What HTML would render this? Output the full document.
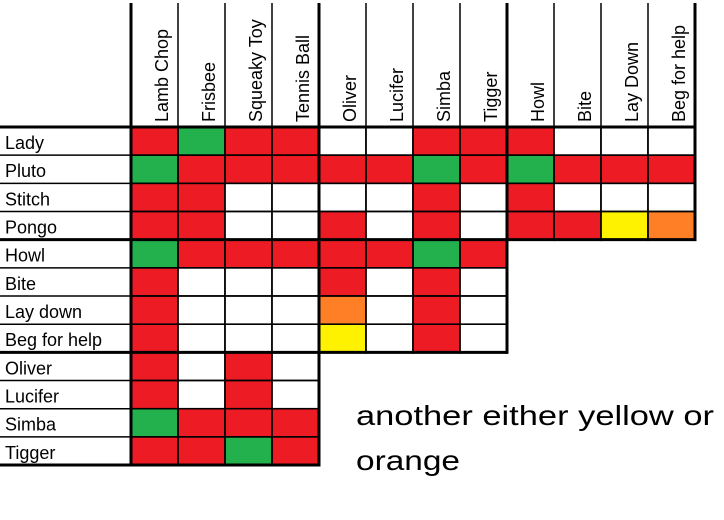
<!DOCTYPE html>
<html><head><meta charset="utf-8"><style>
html,body{margin:0;padding:0;background:#fff;}
svg{display:block;font-family:"Liberation Sans",sans-serif;}
</style></head><body>
<svg id="chart" width="724" height="520" viewBox="0 0 724 520" xmlns="http://www.w3.org/2000/svg">
<text x="356" y="425" font-size="28" textLength="358" lengthAdjust="spacingAndGlyphs">another either yellow or</text>
<text x="356" y="470" font-size="28" textLength="104" lengthAdjust="spacingAndGlyphs">orange</text>
</svg>
<script>
const colLabels=["Lamb Chop","Frisbee","Squeaky Toy","Tennis Ball","Oliver","Lucifer","Simba","Tigger","Howl","Bite","Lay Down","Beg for help"];
const rowLabels=["Lady","Pluto","Stitch","Pongo","Howl","Bite","Lay down","Beg for help","Oliver","Lucifer","Simba","Tigger"];
const cellStates=[
"RGRRWWRRRWWW",
"GRRRRRGRGRRR",
"RRWWWWRWRWWW",
"RRWWRWRWRRYO",
"GRRRRRGR",
"RWWWRWRW",
"RWWWOWRW",
"RWWWYWRW",
"RWRW",
"RWRW",
"GRRR",
"RRGR"];
const colors={R:"#ED1C24",G:"#22B14C",Y:"#FFF200",O:"#FF7F27",W:"#FFFFFF"};
const svg=document.getElementById('chart');
const NS="http://www.w3.org/2000/svg";
const x0=131,y0=127,cw=47,rh=28.17;
const X=i=>x0+i*cw, Y=j=>y0+j*rh;
function mk(t,a){const e=document.createElementNS(NS,t);for(const k in a)e.setAttribute(k,a[k]);svg.appendChild(e);return e;}
cellStates.forEach((row,j)=>{
  for(let i=0;i<row.length;i++){
    const r=mk('rect',{x:X(i),y:Y(j),width:cw,height:rh,fill:colors[row[i]],stroke:'#000','stroke-width':1.5});
    
    
  }
});
for(let j=0;j<=12;j++){
  const thick=(j%4===0);
  const l=mk('line',{x1:0,x2:X(j===0?12:(j<=4?12:(j<=8?8:4))),y1:Y(j),y2:Y(j),stroke:'#000','stroke-width':thick?3:1.5});
  
  
}
for(let i=0;i<=12;i++){
  const bottom=i<=4?12:(i<=8?8:4);
  const thick=(i%4===0);
  const l=mk('line',{x1:X(i),x2:X(i),y1:3,y2:Y(bottom)+1.5,stroke:'#000','stroke-width':thick?3:1.5});
  
  
}
rowLabels.forEach((t,j)=>{
  const e=mk('text',{x:5,y:Y(j)+22,'font-size':18});
  e.textContent=t;
  
  
});
colLabels.forEach((t,i)=>{
  const cx=X(i)+37,cy=122;
  const e=mk('text',{x:cx,y:cy,'font-size':18,transform:`rotate(-90 ${cx} ${cy})`});
  e.textContent=t;
  
  
});
</script>
</body></html>
